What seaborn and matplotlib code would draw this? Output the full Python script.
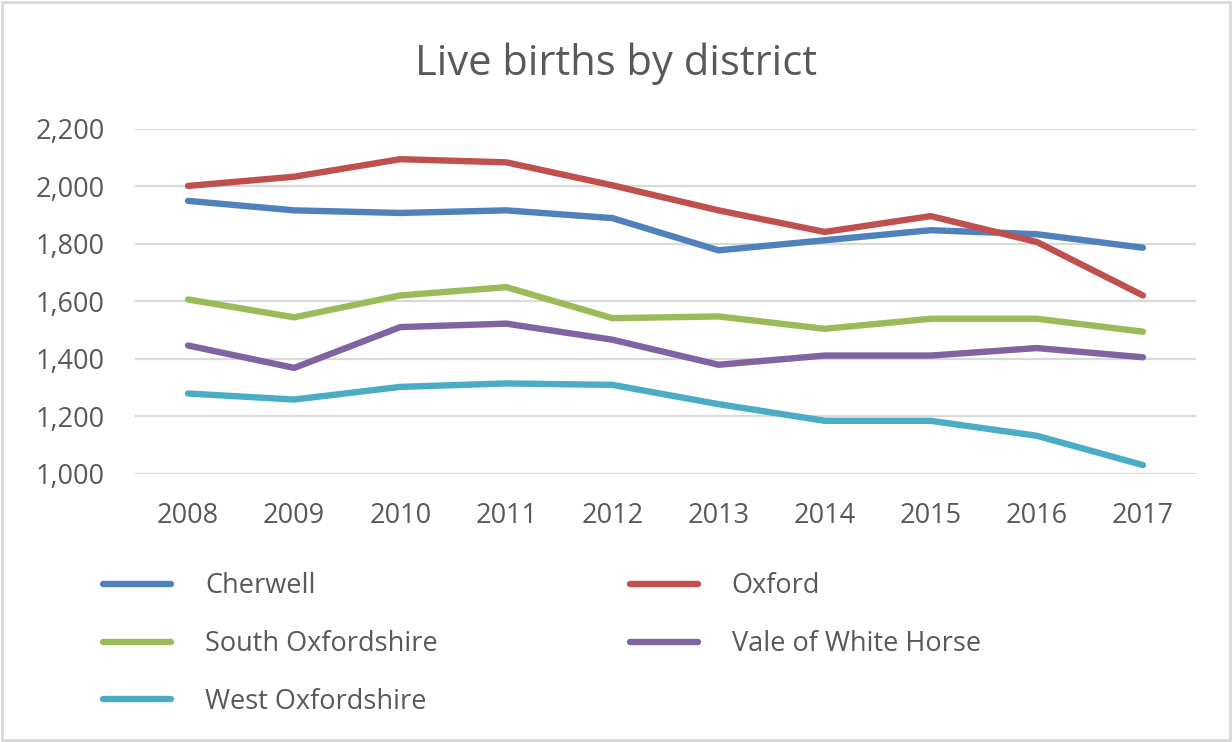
import matplotlib
matplotlib.use("Agg")
import matplotlib.pyplot as plt
import matplotlib.ticker as mticker
from matplotlib.lines import Line2D
from matplotlib.patches import Rectangle
import seaborn as sns
import pandas as pd

years = [2008, 2009, 2010, 2011, 2012, 2013, 2014, 2015, 2016, 2017]
cherwell = [1950, 1917, 1908, 1917, 1890, 1778, 1813, 1848, 1834, 1787]
oxford = [2002, 2034, 2095, 2084, 2004, 1917, 1842, 1897, 1807, 1621]
south_oxfordshire = [1607, 1545, 1621, 1650, 1542, 1548, 1505, 1540, 1540, 1495]
vale_of_white_horse = [1447, 1369, 1511, 1523, 1467, 1380, 1412, 1412, 1438, 1406]
west_oxfordshire = [1280, 1259, 1303, 1315, 1310, 1243, 1185, 1185, 1133, 1031]

districts = ["Cherwell", "Oxford", "South Oxfordshire", "Vale of White Horse", "West Oxfordshire"]
series = [cherwell, oxford, south_oxfordshire, vale_of_white_horse, west_oxfordshire]
colors = ["#4F81BD", "#C0504D", "#9BBB59", "#8064A2", "#4BACC6"]
yticks = [1000, 1200, 1400, 1600, 1800, 2000, 2200]

rows = []
for name, vals in zip(districts, series):
    for y, v in zip(years, vals):
        rows.append({"year": y, "births": v, "district": name})
df = pd.DataFrame(rows)

sns.set_theme(style="white")
plt.rcParams["font.family"] = ["Open Sans", "DejaVu Sans"]

text_color = "#595959"
grid_color = "#D9D9D9"

fig = plt.figure(figsize=(12.32, 7.42), dpi=100)
ax = fig.add_axes([135 / 1232, 1 - 474 / 742, (1196 - 135) / 1232, (474 - 129) / 742])

palette = dict(zip(districts, colors))
sns.lineplot(data=df, x="year", y="births", hue="district", palette=palette,
             hue_order=districts, linewidth=4.6, ax=ax, legend=False,
             solid_capstyle="round", solid_joinstyle="round")

ax.set_xlim(years[0] - 0.5, years[-1] + 0.5)
ax.set_ylim(yticks[0], yticks[-1])
ax.set_xticks(years)
ax.set_xticklabels([str(y) for y in years])
ax.set_yticks(yticks)
ax.yaxis.set_major_formatter(mticker.FuncFormatter(lambda v, p: f"{int(v):,}"))
ax.grid(axis="y", color=grid_color, linewidth=1.6)
ax.grid(axis="x", visible=False)
ax.set_axisbelow(True)
for s in ax.spines.values():
    s.set_visible(False)
ax.tick_params(axis="both", length=0, labelsize=19.5, colors=text_color)
ax.tick_params(axis="y", pad=22)
ax.tick_params(axis="x", pad=20)
ax.set_xlabel("")
ax.set_ylabel("")

fig.text(0.5, 1 - 64 / 742, "Live births by district", ha="center", va="center",
         fontsize=30, color=text_color)

order = [0, 2, 4, 1, 3]
handles = [Line2D([0], [0], color=colors[i], linewidth=4.6, solid_capstyle="round") for i in order]
labels = [districts[i] for i in order]
leg = fig.legend(handles, labels, ncol=2, loc="upper left",
                 bbox_to_anchor=(79 / 1232, 1 - 548 / 742), frameon=False,
                 fontsize=19.5, handlelength=2.5, handletextpad=1.25,
                 columnspacing=7.1, labelspacing=1.1)
for t in leg.get_texts():
    t.set_color(text_color)

fig.patches.append(Rectangle((2 / 1232, 2 / 742), 1 - 4 / 1232, 1 - 4 / 742,
                             transform=fig.transFigure, fill=False,
                             edgecolor=grid_color, linewidth=2))

fig.savefig("out.png", dpi=100)
